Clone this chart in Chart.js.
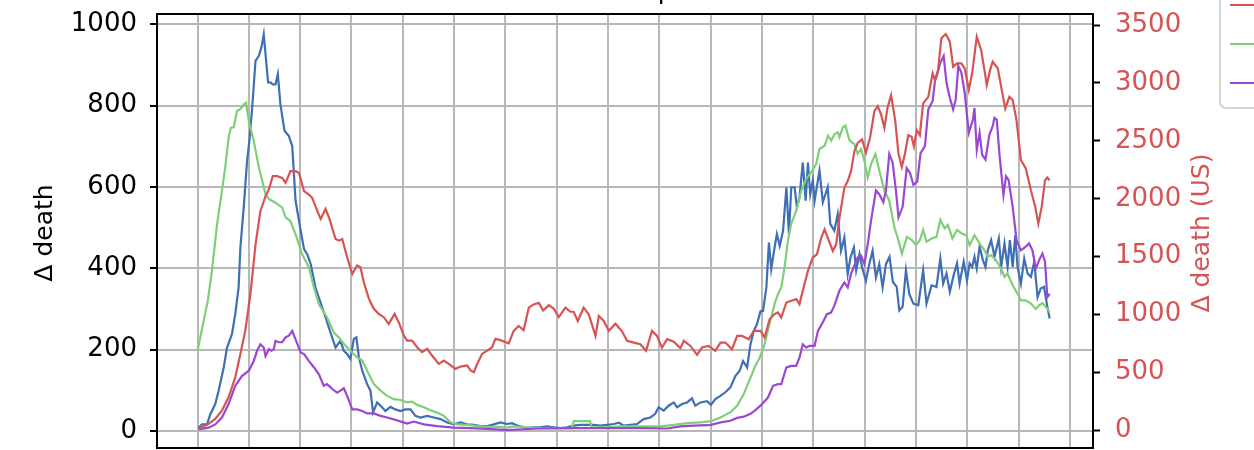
<!DOCTYPE html>
<html>
<head>
<meta charset="utf-8">
<script src="https://cdn.jsdelivr.net/npm/chart.js@4"></script>
<style>
  html, body { margin: 0; padding: 0; background: #fff; overflow: hidden; }
  canvas { display: block; }
</style>
</head>
<body>
<canvas id="grafico" width="1254" height="450"></canvas>
<script>
// Dados (dia desde o início, óbitos por dia)
const seriesNames = ['Spain', 'US', 'Italy', 'Germany'];

const blueDay = [0.4,1.7,3.7,5,6.9,8.2,10.2,11.5,13.4,14.7,16,16.7,18,19.3,20.2,21.3,22.6,23.9,24.9,25.8,26.5,27.5,28.4,29.3,30.4,31.3,32.3,33.9,35.6,36.9,38.2,40.2,41.5,42.8,44.1,46,
  49.9,51.8,53.8,55.7,57,58.3,59.6,60.9,61.9,62.9,64.2,66.1,67.4,68.4,70,71.9,73.2,75.2,77.1,79.1,81,83,84.9,86.9,89.5,92.1,94.7,97.3,99.9,102.5,105.1,107.7,110.3,112.9,115.5,
  118,120.6,122.6,123.9,125.8,128.4,131,133.6,136.2,138.8,141.4,144,146.6,149.2,151.8,154.4,157,159.6,162.2,164.2,166.1,168.7,171.3,173.9,176.5,178.4,179.7,181.7,183.6,185.6,186.9,188.8,190.8,192.7,194,196,198.6,200.1,201.8,203.8,205.7,207.7,209.6,211.3,212.6,214.2,215.5,216.8,218,219.4,
  220.4,221.7,222.7,223.6,224.9,225.8,226.9,228.2,229.5,230.5,231.4,232.7,233.6,234.6,235.9,237,237.9,238.8,239.8,240.5,242.4,243.7,245.6,246.6,248.2,249.5,250.8,252.1,253.4,254.5,255.8,256.7,258,259,260.5,261.8,263.1,264.4,265.7,267,268.3,
  269.7,271,272.5,273.5,274.8,276.1,277.4,279,280.9,282.8,284.1,286.1,288,289.5,290.6,291.9,293.2,294.7,296,297,298.6,299.9,300.9,301.9,302.8,303.7,304.8,306.1,307.1,308,309.3,310.6,312.3,313.2,314.5,315.7,316.6,317.7,318.7,319.6,320.9,322.2,323.5,324.8,326.1,327.4,328.6,329.9,331.2,332.1];
const blueVal = [8,16,16,41,66,98,156,205,238,287,352,451,549,664,713,795,910,922,943,975,926,857,857,852,852,877,803,738,725,701,566,492,447,434,410,352,
  279,242,205,222,197,189,177,226,230,181,148,115,99,45,70,58,49,59,53,49,53,53,37,33,37,33,29,21,16,21,16,15,12,12,16,
  21,17,19,15,11,7,9,9,11,9,7,9,13,15,15,15,13,15,17,20,13,15,17,29,33,42,58,50,62,70,58,66,70,80,62,70,73,64,78,86,95,107,135,148,172,156,213,246,262,294,
  295,353,463,398,451,484,455,492,599,484,599,599,550,574,660,566,660,582,615,566,640,562,599,509,492,533,443,476,386,427,451,394,435,402,369,410,443,377,410,353,410,
  428,366,354,296,305,395,337,313,309,395,313,358,354,424,362,387,342,383,412,362,416,370,412,403,428,399,453,420,403,444,469,428,473,403,461,403,469,403,481,403,362,424,387,379,416,329,350,354,305,276];

const greenDay = [0,4,5.6,7.6,9.5,10.8,12.1,13,14.1,15.4,16.7,18,18.9,20,21.9,23.9,26.5,27.8,30.4,33,34.3,36.2,38.2,40.8,43.4,45.4,47.3,
  50.5,53.1,55.1,57,59.6,62.2,64.2,66.1,68.7,71.3,73.9,76.5,79.1,81.7,83.6,85.6,88.2,90.8,93.4,96,98.6,101.2,105.1,109,112.9,116.8,120.6,
  123.2,128.4,133.6,138.8,144,145.9,146.6,153,153.6,159.6,164.8,170,175.2,180.4,185.6,190.8,196,200.1,203.8,207.7,210.3,212.9,215.5,217.4,
  219.1,221,222.9,224.9,226.2,227.5,228.8,230.1,231.4,233.3,235.3,237.2,239.2,241.1,242.4,244.4,245.7,247,248.3,249.6,250.2,251.5,252.5,254.1,256,257.3,258.6,259.9,261.2,262.5,264.2,265.7,267.7,269.6,271.6,273.2,
  274.5,276.5,278.4,280,281.5,282.8,284.1,286.1,288,289.5,291.2,292.5,294.2,296,297.7,299.6,300.9,302.8,304.8,306.7,308,309.3,311.2,313.2,314.5,315.7,317.7,319.6,320.9,322.8,324.8,326.7,328,329.3,330.6,332.1];
const greenVal = [197,320,393,508,590,648,721,746,746,787,791,803,807,762,713,648,582,570,561,549,525,516,484,434,402,352,311,
  279,242,230,214,197,181,173,148,115,99,86,78,76,70,72,64,58,51,45,37,21,16,15,12,10,10,8,
  11,9,7,7,7,7,24,24,9,9,11,11,11,11,15,19,21,24,33,46,62,91,131,160,
  180,213,262,312,336,353,402,468,509,541,591,619,636,656,693,701,726,714,730,734,722,746,751,714,705,681,693,664,623,656,681,640,591,566,500,468,
  436,477,469,457,469,494,465,473,477,519,498,506,473,494,486,481,457,481,461,444,428,432,420,399,379,387,358,337,321,321,313,300,309,314,305,292];

const purpleDay = [0.4,4.3,6.9,9.5,12.1,14.7,17.3,20,21.9,23.2,24.5,25.8,26.5,27.8,28.8,29.7,30.4,31.7,33,34.3,35.6,36.9,38.2,40.2,41.5,43.4,45.4,47.3,
  49.2,50.5,52.5,54.4,55.7,57,58.3,60.3,62.2,64.2,66.1,68.7,71.3,73.9,77.8,81.7,84.3,88.2,93.4,99.9,106.4,112.9,120.6,
  133,146,159.6,172.6,183,188.2,193.4,198.6,200.1,203.8,207.7,210.3,212.9,215.5,217.4,219.4,
  222.3,224.3,226.2,227.5,229.5,231.4,233.3,234.6,235.9,237.2,238.5,240.5,241.8,243.7,245.3,246.9,248.2,250.2,252.1,253.4,254.7,256,257.3,258.6,259.9,261.2,262.5,264.4,265.7,267.3,268.3,269.6,270.9,272.2,273.2,
  274.8,276.4,277.7,279,280.5,281.8,283.5,284.8,286.5,287.4,288.3,289.5,290.8,291.9,293.2,294.5,295.5,296.5,297.7,299,300.6,302.2,302.8,303.7,304.8,305.8,307.1,308.6,309.9,310.6,311.5,312.5,314.1,315.1,316.1,317.7,319.2,320.9,322.8,324.1,325.4,326.7,328,329.3,330.3,331.2,332.1];
const purpleVal = [4,8,16,33,66,111,135,148,172,197,213,205,184,201,197,201,221,218,218,230,234,246,225,193,189,172,156,139,
  111,115,103,94,99,105,86,53,53,49,43,43,37,33,26,18,23,16,12,8,7,5,2,
  6,7,7,7,6,11,13,14,15,21,25,32,35,42,51,62,
  82,111,115,115,156,160,160,180,213,205,209,209,246,267,287,291,308,345,365,353,386,406,427,431,410,459,517,591,582,562,591,681,660,591,525,
  551,646,634,605,613,683,700,790,811,860,877,905,922,856,819,790,815,897,881,831,733,765,794,691,733,679,667,728,749,770,765,683,580,626,617,551,469,444,453,461,444,399,420,436,416,329,337];

// US no eixo da direita
const redDay = [0.4,4.3,6.9,9.5,12.1,14.7,16.7,18.6,20.6,22.6,24.5,26.5,27.8,29.3,31,33,34.3,36.2,38.2,39.5,41.5,43.4,44.7,46.7,
  48,49.9,51.2,53.8,55.1,56.4,58.3,60.3,62.2,63.5,64.8,66.8,68.7,70.6,72.6,74.5,76.8,78.4,80.4,81.7,83.6,85.6,87.5,89.5,91.4,94,96,97.9,100.5,102.5,105.1,106.4,107.7,109,110.9,112.9,114.8,116.1,
  118,121.3,123.2,125.2,127.1,129.1,131,133,134.7,136.9,138.8,140.8,143.4,145.3,146.6,148.2,150.5,152.5,155.1,156.4,158.3,160.3,162.9,165.5,167.4,170,172.6,174.8,177.1,179.1,181,183,185.6,188.2,189.5,192.1,194.7,196.6,199.2,201.8,203.8,205.7,208.3,210.3,212.2,214.8,216.8,219.4,
  221,223,224.9,226.2,227.5,229.5,231.4,233.4,234.6,236.2,237.9,239.8,241.4,243.1,244.4,245.6,247.6,248.9,250.2,252.1,253.4,254.7,256,257.3,259,260.5,262.1,263.8,265.1,266.4,267.7,268.9,270.3,
  271.9,273.2,274.5,275.7,277,278.3,279.2,280.3,281.5,282.8,284.8,286.5,287.4,288.6,289.9,291.6,293.2,294.5,296,297.7,299,300.6,301.9,303.7,305.4,306.7,307.6,308.9,309.9,311.9,313.2,314.8,316.4,317.7,319.2,320.9,322.8,324.8,326.5,327.7,329,330.3,331.2,332.1];
const redVal = [14,57,100,172,287,459,660,861,1176,1607,1893,2023,2080,2195,2195,2180,2138,2238,2238,2224,2066,2037,2008,1893,
  1826,1912,1841,1653,1639,1653,1495,1351,1424,1410,1280,1136,1050,1007,978,920,1007,935,820,776,776,719,676,705,647,575,604,575,532,552,561,518,503,575,661,690,719,791,
  780,752,860,902,865,1060,1088,1102,1036,1082,1053,979,1060,1025,1025,945,1060,1002,816,988,945,860,922,854,774,759,745,688,860,816,716,788,766,711,774,730,653,716,730,688,759,759,702,816,816,788,860,860,
  804,962,1005,1019,976,1105,1120,1134,1091,1234,1378,1493,1521,1665,1737,1665,1550,1607,1837,2095,2153,2239,2411,2483,2512,2397,2526,2757,2800,2728,2612,2785,2894,
  2677,2389,2274,2389,2549,2535,2452,2592,2549,2824,2880,3083,3025,3111,3385,3422,3356,3139,3168,3168,3125,2941,3083,3399,3284,3111,2982,3111,3183,3125,2968,2780,2880,2852,2677,2335,2263,2074,1930,1785,1930,2159,2183,2159];

const leftTicks = [0, 200, 400, 600, 800, 1000];
const rightTicks = [0, 500, 1000, 1500, 2000, 2500, 3000, 3500];
const dayTicks = [0, 20, 40, 60, 80, 100, 120, 140, 160, 180, 200, 220, 240, 260, 280, 300, 320, 340];

const cores = { blue: '#3f6fb4', red: '#d65454', green: '#7fcf78', purple: '#9a48d2' };
const fonte = 'DejaVu Sans';

function pontos(dias, valores) {
  return dias.map((d, i) => ({ x: d, y: valores[i] }));
}

function serie(nome, cor, dias, valores, eixo, ordem) {
  return {
    label: nome,
    data: pontos(dias, valores),
    borderColor: cor,
    borderWidth: 2.2,
    pointRadius: 0,
    tension: 0,
    yAxisID: eixo,
    order: ordem
  };
}

// tira o espaço extra que o Chart.js reserva para os rótulos das pontas
function semPadding(s) {
  s.paddingTop = 0;
  s.paddingBottom = 0;
  s.paddingLeft = 0;
  s.paddingRight = 0;
}

// Moldura preta em volta da área do gráfico
const molduraPlugin = {
  id: 'moldura',
  afterDatasetsDraw(chart) {
    const { ctx, chartArea: a } = chart;
    ctx.save();
    ctx.strokeStyle = '#000';
    ctx.lineWidth = 2;
    ctx.strokeRect(a.left, a.top, a.right - a.left, a.bottom - a.top);
    ctx.restore();
  }
};

// Título e rótulos dos eixos (cortados como no original)
const textosPlugin = {
  id: 'textos',
  afterDraw(chart) {
    const { ctx, chartArea: a } = chart;
    ctx.save();
    ctx.font = '25px "' + fonte + '"';
    ctx.textAlign = 'center';
    ctx.textBaseline = 'alphabetic';
    ctx.fillStyle = '#000';
    ctx.fillText('Deaths comparison', (a.left + a.right) / 2 + 4, -1);

    ctx.textBaseline = 'middle';
    ctx.translate(45, 233);
    ctx.rotate(-Math.PI / 2);
    ctx.fillText('Δ death', 0, 0);
    ctx.restore();

    ctx.save();
    ctx.font = '25px "' + fonte + '"';
    ctx.textAlign = 'center';
    ctx.textBaseline = 'middle';
    ctx.fillStyle = cores.red;
    ctx.translate(1202, 233);
    ctx.rotate(-Math.PI / 2);
    ctx.fillText('Δ death (US)', 0, 0);
    ctx.restore();
  }
};

// Legenda no canto direito, em grande parte fora da imagem
const legendaPlugin = {
  id: 'legenda',
  afterDraw(chart) {
    const ctx = chart.ctx;
    const itens = [['Spain', cores.blue], ['US', cores.red], ['Italy', cores.green], ['Germany', cores.purple]];
    ctx.save();
    ctx.beginPath();
    ctx.roundRect(1220, -160, 160, 268, 6);
    ctx.fillStyle = 'rgba(255,255,255,0.8)';
    ctx.fill();
    ctx.strokeStyle = '#d4d4d4';
    ctx.lineWidth = 2;
    ctx.stroke();
    ctx.font = '25px "' + fonte + '"';
    ctx.textBaseline = 'middle';
    itens.forEach(([nome, cor], i) => {
      const y = -34 + i * 39;
      ctx.strokeStyle = cor;
      ctx.lineWidth = 2;
      ctx.beginPath();
      ctx.moveTo(1230, y);
      ctx.lineTo(1272, y);
      ctx.stroke();
      ctx.fillStyle = '#000';
      ctx.fillText(nome, 1285, y);
    });
    ctx.restore();
  }
};

new Chart(document.getElementById('grafico').getContext('2d'), {
  type: 'line',
  data: {
    datasets: [
      serie(seriesNames[0], cores.blue, blueDay, blueVal, 'y', 3),
      serie(seriesNames[2], cores.green, greenDay, greenVal, 'y', 2),
      serie(seriesNames[3], cores.purple, purpleDay, purpleVal, 'y', 1),
      serie(seriesNames[1], cores.red, redDay, redVal, 'y2', 0)
    ]
  },
  options: {
    responsive: false,
    animation: false,
    devicePixelRatio: 1,
    layout: { padding: { top: 14, left: 0, right: 0, bottom: 0 } },
    plugins: { legend: { display: false }, tooltip: { enabled: false } },
    scales: {
      x: {
        type: 'linear',
        min: -15.8,
        max: 349,
        afterBuildTicks: s => { s.ticks = dayTicks.map(v => ({ value: v })); },
        afterFit: s => { s.height = 2; semPadding(s); },
        ticks: { display: false },
        grid: { color: '#b8b8b8', lineWidth: 2, drawTicks: false },
        border: { display: false }
      },
      y: {
        position: 'left',
        min: -42,
        max: 1025,
        afterBuildTicks: s => { s.ticks = leftTicks.map(v => ({ value: v })); },
        afterFit: s => { s.width = 157; semPadding(s); },
        ticks: { color: '#000', padding: 13, font: { family: fonte, size: 26 }, callback: v => String(v) },
        grid: { color: '#b8b8b8', lineWidth: 2, tickColor: '#000', tickLength: 7, tickWidth: 2 },
        border: { display: false }
      },
      y2: {
        position: 'right',
        min: -151,
        max: 3595,
        afterBuildTicks: s => { s.ticks = rightTicks.map(v => ({ value: v })); },
        afterFit: s => { s.width = 161; semPadding(s); },
        ticks: { color: cores.red, padding: 15, font: { family: fonte, size: 26 }, callback: v => String(v) },
        grid: { drawOnChartArea: false, tickColor: '#000', tickLength: 7, tickWidth: 2 },
        border: { display: false }
      }
    }
  },
  plugins: [molduraPlugin, textosPlugin, legendaPlugin]
});
</script>
</body>
</html>
